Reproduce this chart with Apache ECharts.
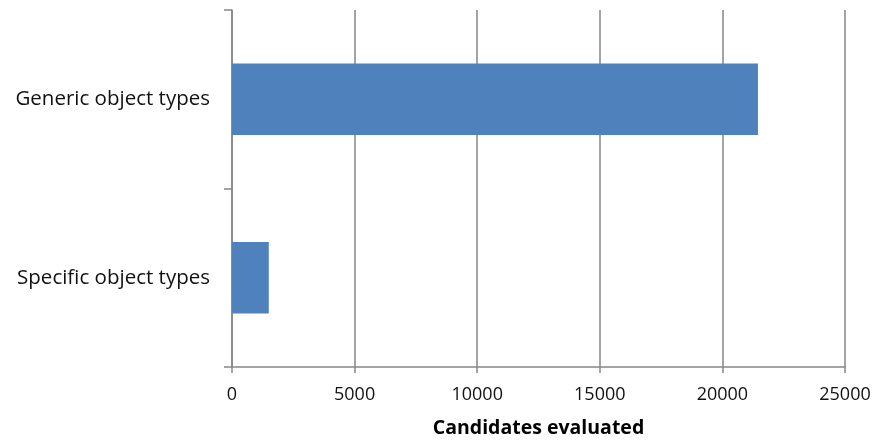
<!DOCTYPE html>
<html>
<head>
<meta charset="utf-8">
<script src="https://cdn.jsdelivr.net/npm/echarts@6/dist/echarts.min.js"></script>
<style>
  html, body { margin: 0; padding: 0; background: #fff; }
  #chart { width: 877px; height: 443px; }
</style>
</head>
<body>
<div id="chart"></div>
<script>
// Categories listed bottom-to-top (ECharts draws the first category at the bottom)
const categories = ['Specific object types', 'Generic object types'];
const candidates = [1500, 21450];
const axisTitle = 'Candidates evaluated';

const axisGray = '#868686';
const font = '"Open Sans", "Noto Sans", sans-serif';

const chart = echarts.init(document.getElementById('chart'), null, { renderer: 'canvas' });
chart.setOption({
  animation: false,
  grid: { left: 232, right: 32, top: 10, bottom: 73, containLabel: false },
  xAxis: {
    type: 'value',
    min: 0,
    max: 25000,
    interval: 5000,
    name: axisTitle,
    nameLocation: 'middle',
    nameGap: 51,
    nameTextStyle: { fontFamily: font, fontSize: 19.5, fontWeight: 'bold', color: '#000' },
    axisLine: { show: true, lineStyle: { color: axisGray, width: 1.5 } },
    axisTick: { show: true, length: 6, lineStyle: { color: axisGray, width: 1.5 } },
    axisLabel: {
      fontFamily: font, fontSize: 18, color: '#111', margin: 19,
      formatter: v => String(v)
    },
    splitLine: { show: true, lineStyle: { color: axisGray, width: 1.5 } }
  },
  yAxis: {
    type: 'category',
    data: categories,
    axisLine: { show: true, lineStyle: { color: axisGray, width: 1.5 } },
    axisTick: { show: true, length: 8, alignWithLabel: false, lineStyle: { color: axisGray, width: 1.5 } },
    axisLabel: { fontFamily: font, fontSize: 20.5, color: '#111', margin: 22 },
    splitLine: { show: false }
  },
  series: [{
    type: 'bar',
    data: candidates,
    barWidth: '40%',
    itemStyle: { color: '#4F81BD' }
  }]
});
</script>
</body>
</html>
